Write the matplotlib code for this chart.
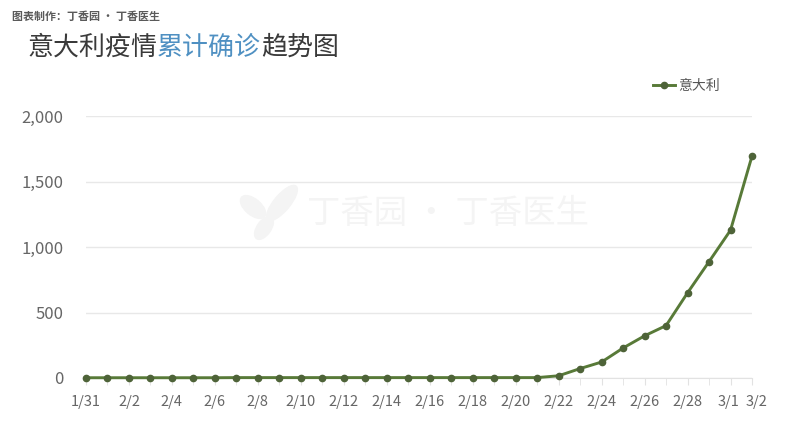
import matplotlib.pyplot as plt
from matplotlib.ticker import FuncFormatter
from matplotlib.patches import Ellipse
from matplotlib.transforms import ScaledTranslation

plt.rcParams['font.family'] = ['Noto Sans CJK SC', 'DejaVu Sans']

# dates 1/31 .. 3/2 (2020, leap year)
dates = ['1/31'] + ['2/%d' % d for d in range(1, 30)] + ['3/1', '3/2']
italy = [2, 2, 2, 2, 2, 2, 2, 3, 3, 3, 3, 3, 3, 3, 3, 3,
         3, 3, 3, 3, 3, 3, 17, 72, 122, 229, 322, 400, 650, 888, 1128, 1694]
label_dates = ['1/31', '2/2', '2/4', '2/6', '2/8', '2/10', '2/12', '2/14', '2/16',
               '2/18', '2/20', '2/22', '2/24', '2/26', '2/28', '3/1', '3/2']
y_ticks = [0, 500, 1000, 1500, 2000]

line_color = '#587a38'
marker_color = '#4e6338'
text_gray = '#666666'

fig = plt.figure(figsize=(8, 4.37), dpi=100)
ax = fig.add_axes([86 / 800, 1 - 378 / 437, (752 - 86) / 800, (378 - 116) / 437])

x = list(range(len(dates)))
ax.plot(x, italy, color=line_color, lw=2.1, marker='o', markersize=4.5,
        markerfacecolor=marker_color, markeredgecolor=marker_color,
        clip_on=False, zorder=3, label='意大利')

ax.set_xlim(0, len(dates) - 1)
ax.set_ylim(0, 2000)
ax.set_yticks(y_ticks)
ax.yaxis.set_major_formatter(FuncFormatter(lambda v, p: '{:,.0f}'.format(v)))
ax.set_xticks(x, minor=True)
ax.set_xticks([dates.index(d) for d in label_dates])
ax.set_xticklabels(label_dates)

ax.grid(axis='y', color='#e8e8e8', lw=1)
ax.set_axisbelow(True)
for s in ['top', 'right', 'left']:
    ax.spines[s].set_visible(False)
ax.spines['bottom'].set_color('#e2e2e2')
ax.tick_params(axis='y', length=0, pad=16, labelsize=12, labelcolor=text_gray)
ax.tick_params(axis='x', which='both', length=5, color='#e2e2e2', pad=7,
               labelsize=10.5, labelcolor=text_gray)

# last two labels sit close together, nudge them apart
xl = ax.get_xticklabels()
xl[-1].set_transform(xl[-1].get_transform() + ScaledTranslation(0.05, 0, fig.dpi_scale_trans))
xl[-2].set_transform(xl[-2].get_transform() + ScaledTranslation(-0.02, 0, fig.dpi_scale_trans))

# watermark: faint leaf logo + text
wm = '#f4f4f4'
for cx, cy, w, h, ang in [(253, 207, 16, 30, 50), (264, 228, 14, 26, -35),
                          (282, 203, 16, 44, -40)]:
    fig.patches.append(Ellipse((cx / 100, (437 - cy) / 100), w / 100, h / 100,
                               angle=ang, color=wm, transform=fig.dpi_scale_trans,
                               zorder=0))
fig.text(0.56, 1 - 213 / 437, '丁香园 ‧ 丁香医生', fontsize=24, color=wm,
         ha='center', va='center', zorder=0)

leg = ax.legend(loc='upper right', bbox_to_anchor=(0.97, 1.19), frameon=False,
                fontsize=10, handlelength=1.6, handletextpad=0.2)
for t in leg.get_texts():
    t.set_color('#555555')

# titles
fig.text(12 / 800, 1 - 17 / 437, '图表制作：丁香园 ‧ 丁香医生', fontsize=7.9,
         color='#5a5a5a', va='center', fontweight='bold')
ty = 1 - 47 / 437
t1 = fig.text(27 / 800, ty, '意大利疫情', fontsize=18.7, color='#3a3a3a', va='center')
t2 = fig.text(0, 0, '累计确诊', fontsize=18.7, color='#4f90c2', va='center')
t3 = fig.text(0, 0, '趋势图', fontsize=18.7, color='#3a3a3a', va='center')
fig.canvas.draw()
r = fig.canvas.get_renderer()
inv = fig.transFigure.inverted()
x1 = inv.transform(t1.get_window_extent(r))[1][0]
t2.set_position((x1, ty))
fig.canvas.draw()
x2 = inv.transform(t2.get_window_extent(r))[1][0]
t3.set_position((x2, ty))

fig.savefig('out.png', dpi=100, facecolor='white')
